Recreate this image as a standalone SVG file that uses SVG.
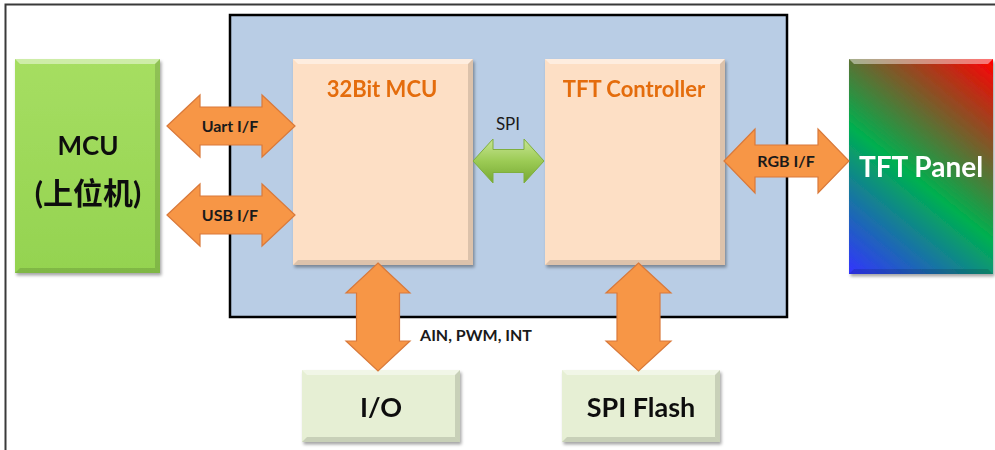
<svg xmlns="http://www.w3.org/2000/svg" width="995" height="450" viewBox="0 0 995 450">
<style>
  .lbl{font-family:Lato,"Liberation Sans","Noto Sans CJK SC",sans-serif;font-weight:bold;fill:#1a1a1a;text-anchor:middle}
  .ttl{font-family:Lato,"Liberation Sans",sans-serif;font-weight:bold;fill:#E46C0A;font-size:22px;text-anchor:middle}
  .big{font-family:Lato,"Liberation Sans","Noto Sans CJK SC",sans-serif;font-weight:bold;fill:#111;text-anchor:middle}
  .oarr{fill:#F79646;stroke:#D9793A;stroke-width:1.2;stroke-linejoin:miter}
  .hi{fill:#fff;opacity:0.45}
  .lo{fill:#000;opacity:0.13}
</style>
<defs>
  <filter id="sh" x="-10%" y="-10%" width="125%" height="125%">
    <feDropShadow dx="1.5" dy="2.5" stdDeviation="1.8" flood-color="#000" flood-opacity="0.35"/>
  </filter>
  <linearGradient id="gMcu" x1="0" y1="0" x2="0" y2="1">
    <stop offset="0" stop-color="#A6DE62"/>
    <stop offset="1" stop-color="#94D350"/>
  </linearGradient>
  <linearGradient id="gPanel" gradientUnits="userSpaceOnUse" x1="993" y1="59" x2="831" y2="260">
    <stop offset="0" stop-color="#FF0000"/>
    <stop offset="0.55" stop-color="#00B050"/>
    <stop offset="1" stop-color="#3333FF"/>
  </linearGradient>
  <linearGradient id="gSpi" x1="0" y1="0" x2="0" y2="1">
    <stop offset="0" stop-color="#C8E594"/>
    <stop offset="0.5" stop-color="#9CCB55"/>
    <stop offset="1" stop-color="#76A832"/>
  </linearGradient>
</defs>

<rect width="995" height="450" fill="#fff"/>
<path d="M5.5 450 V4.5 H995" fill="none" stroke="#3a3a3a" stroke-width="2"/>

<g id="board">
  <rect x="230" y="15" width="557" height="302" fill="#B9CDE5" stroke="#000" stroke-width="2.5"/>
</g>

<g id="host-mcu" filter="url(#sh)">
  <rect x="15" y="59" width="145" height="214" fill="url(#gMcu)"/>
  <polygon class="hi" points="15,59 160,59 155,64 20,64"/>
  <polygon class="lo" points="160,59 160,273 155,268 155,64"/>
  <polygon class="lo" points="15,273 160,273 155,268 20,268"/>
  <text class="big" x="88" y="155" font-size="26">MCU</text>
  <text class="big" x="88" y="204" font-size="30">(上位机)</text>
</g>

<g id="mcu32" filter="url(#sh)">
  <rect x="293" y="59" width="180" height="206" fill="#FDDFC5"/>
  <polygon class="hi" points="293,59 473,59 468,64 298,64"/>
  <polygon class="lo" points="473,59 473,265 468,260 468,64"/>
  <polygon class="lo" points="293,265 473,265 468,260 298,260"/>
  <text class="ttl" x="382" y="97">32Bit MCU</text>
</g>

<g id="tft-controller" filter="url(#sh)">
  <rect x="545" y="59" width="180" height="206" fill="#FDDFC5"/>
  <polygon class="hi" points="545,59 725,59 720,64 550,64"/>
  <polygon class="lo" points="725,59 725,265 720,260 720,64"/>
  <polygon class="lo" points="545,265 725,265 720,260 550,260"/>
  <text class="ttl" x="634" y="97">TFT Controller</text>
</g>

<g id="tft-panel" filter="url(#sh)">
  <rect x="849" y="59" width="144" height="215" fill="url(#gPanel)"/>
  <polygon class="hi" points="849,59 993,59 988,64 854,64" opacity="0.3"/>
  <polygon class="lo" points="849,274 993,274 988,269 854,269"/>
  <text x="921" y="177" font-family="Lato,'Liberation Sans',sans-serif" font-weight="bold" font-size="28" fill="#fff" text-anchor="middle">TFT Panel</text>
</g>

<g id="io" filter="url(#sh)">
  <rect x="302" y="370" width="158" height="72" fill="#E6EFD4"/>
  <polygon class="hi" points="302,370 460,370 455,375 307,375"/>
  <polygon class="lo" points="460,370 460,442 455,437 455,375" opacity="0.2"/>
  <polygon class="lo" points="302,442 460,442 455,437 307,437" opacity="0.2"/>
  <text class="big" x="381" y="417" font-size="27">I/O</text>
</g>

<g id="spi-flash" filter="url(#sh)">
  <rect x="562" y="370" width="158" height="72" fill="#E6EFD4"/>
  <polygon class="hi" points="562,370 720,370 715,375 567,375"/>
  <polygon class="lo" points="720,370 720,442 715,437 715,375" opacity="0.2"/>
  <polygon class="lo" points="562,442 720,442 715,437 567,437" opacity="0.2"/>
  <text class="big" x="641" y="417" font-size="27">SPI Flash</text>
</g>

<g id="connectors">
  <polygon class="oarr" points="167,126 200,95 200,107 262,107 262,95 295,126 262,157 262,145 200,145 200,157"/>
  <text class="lbl" x="230" y="132" font-size="16">Uart I/F</text>

  <polygon class="oarr" points="167,215 200,184 200,196 262,196 262,184 295,215 262,246 262,234 200,234 200,246"/>
  <text class="lbl" x="230" y="221" font-size="16">USB I/F</text>

  <polygon points="473,161 493,139 493,149.5 524,149.5 524,139 544,161 524,183 524,172.5 493,172.5 493,183" fill="url(#gSpi)" stroke="#7FAF3E" stroke-width="1"/>
  <text x="508" y="130" font-family="Lato,'Liberation Sans',sans-serif" font-size="17" fill="#1a1a1a" text-anchor="middle">SPI</text>

  <polygon class="oarr" points="724,161 755,129 755,145 818,145 818,129 849,161 818,193 818,177 755,177 755,193"/>
  <text class="lbl" x="786" y="167" font-size="16">RGB I/F</text>

  <polygon class="oarr" points="378,263 410,293 399.5,293 399.5,341 410,341 378,371 346,341 356.5,341 356.5,293 346,293"/>
  <text class="lbl" x="476" y="341" font-size="16">AIN, PWM, INT</text>

  <polygon class="oarr" points="638.5,263 671,293 660,293 660,341 671,341 638.5,371 606,341 617,341 617,293 606,293"/>
</g>
</svg>
